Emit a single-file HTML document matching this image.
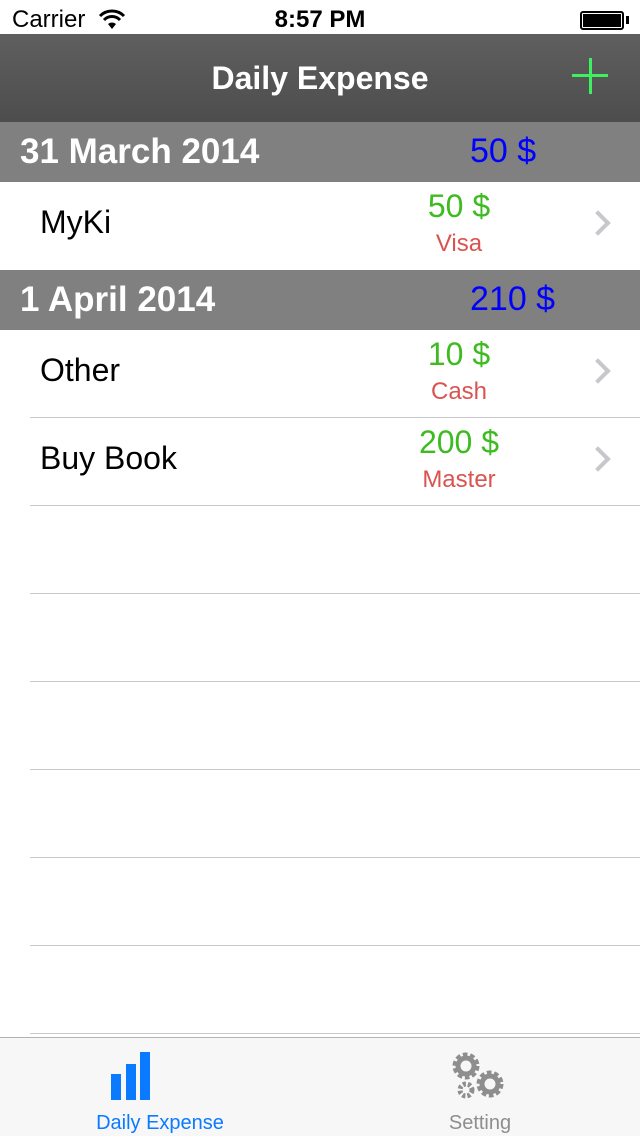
<!DOCTYPE html>
<html><head><meta charset="utf-8"><style>
*{margin:0;padding:0;box-sizing:border-box}
body{width:640px;height:1136px;overflow:hidden;background:#fff;font-family:"Liberation Sans",Arial,sans-serif;position:relative}
.abs{position:absolute}
.sep{position:absolute;left:30px;right:0;height:1px;background:#c8c7cc}
.hdr{position:absolute;left:0;width:640px;height:60px;background:#808080;color:#fff}
.hdr .d{position:absolute;left:20px;top:10px;font-size:35px;font-weight:bold}
.hdr .t{position:absolute;left:470px;top:10px;font-size:34px;color:#0000ff}
.row{position:absolute;left:0;width:640px;height:88px}
.row .n{position:absolute;left:40px;top:22px;font-size:32px;color:#000}
.row .a{position:absolute;left:360px;width:198px;text-align:center;top:6px;font-size:32px;color:#3dbb1f}
.row .m{position:absolute;left:360px;width:198px;text-align:center;top:48px;font-size:24px;color:#d9534f}
.chev{position:absolute;left:589px;top:32px;width:18px;height:18px;border-right:4px solid #c7c7cc;border-top:4px solid #c7c7cc;transform:rotate(45deg)}
</style></head><body>
<div class="abs" style="left:0;top:0;width:640px;height:34px;background:#fff">
 <div class="abs" style="left:12px;top:6px;font-size:24px">Carrier</div>
 <svg class="abs" style="left:98px;top:8px" width="28" height="22" viewBox="0 0 28 22">
  <path d="M2 8 A17 17 0 0 1 26 8" stroke="#000" stroke-width="3" fill="none"/>
  <path d="M6 12 A11 11 0 0 1 22 12" stroke="#000" stroke-width="3" fill="none"/>
  <path d="M10 16 L14 21 L18 16 A6 6 0 0 0 10 16Z" fill="#000"/></svg>
 <div class="abs" style="left:0;width:640px;text-align:center;top:6px;font-size:24px;font-weight:bold">8:57 PM</div>
 <div class="abs" style="left:580px;top:11px;width:44px;height:19px;border:2px solid #000;border-radius:3px;padding:1px"><div style="width:100%;height:100%;background:#000"></div></div>
 <div class="abs" style="left:626px;top:16px;width:3px;height:8px;background:#000"></div>
</div>
<div class="abs" style="left:0;top:34px;width:640px;height:88px;background:linear-gradient(#5f5f5f,#4d4d4d)">
 <div class="abs" style="left:0;width:640px;text-align:center;top:26px;color:#fff;font-size:32px;font-weight:bold">Daily Expense</div>
 <div class="abs" style="left:572px;top:24px;width:36px;height:36px">
  <div class="abs" style="left:17px;top:0;width:3px;height:36px;background:#3cf060"></div>
  <div class="abs" style="left:0;top:16px;width:36px;height:3px;background:#3cf060"></div>
 </div>
</div>
<div class="hdr" style="top:122px"><div class="d">31 March 2014</div><div class="t">50 $</div></div>
<div class="row" style="top:182px"><div class="n">MyKi</div><div class="a">50 $</div><div class="m">Visa</div><div class="chev"></div></div>
<div class="hdr" style="top:270px"><div class="d">1 April 2014</div><div class="t">210 $</div></div>
<div class="row" style="top:330px"><div class="n">Other</div><div class="a">10 $</div><div class="m">Cash</div><div class="chev"></div></div>
<div class="sep" style="top:417px"></div>
<div class="row" style="top:418px"><div class="n">Buy Book</div><div class="a">200 $</div><div class="m">Master</div><div class="chev"></div></div>
<div class="sep" style="top:505px"></div>
<div class="sep" style="top:593px"></div>
<div class="sep" style="top:681px"></div>
<div class="sep" style="top:769px"></div>
<div class="sep" style="top:857px"></div>
<div class="sep" style="top:945px"></div>
<div class="sep" style="top:1033px"></div>
<div class="abs" style="left:0;top:1037px;width:640px;height:99px;background:#f7f7f7;border-top:1px solid #b2b2b2">
 <div class="abs" style="left:60px;top:0;width:200px;height:99px">
  <div class="abs" style="left:51px;top:36px;width:10px;height:26px;background:#0a7aff"></div>
  <div class="abs" style="left:66px;top:26px;width:10px;height:36px;background:#0a7aff"></div>
  <div class="abs" style="left:80px;top:14px;width:10px;height:48px;background:#0a7aff"></div>
  <div class="abs" style="left:0;width:200px;text-align:center;top:74px;font-size:20px;color:#0a7aff">Daily Expense</div>
 </div>
 <div class="abs" style="left:380px;top:0;width:200px;height:99px">
  <svg class="abs" style="left:66px;top:8px" width="64" height="60" viewBox="0 0 64 60">
   <circle cx="20" cy="20" r="10" fill="none" stroke="#8e8e8e" stroke-width="7" stroke-dasharray="4 2.3"/>
   <circle cx="20" cy="20" r="8" fill="none" stroke="#8e8e8e" stroke-width="5"/>
   <circle cx="44" cy="38" r="10" fill="none" stroke="#8e8e8e" stroke-width="7" stroke-dasharray="4 2.3"/>
   <circle cx="44" cy="38" r="8" fill="none" stroke="#8e8e8e" stroke-width="5"/>
   <circle cx="20" cy="44" r="6" fill="none" stroke="#8e8e8e" stroke-width="5" stroke-dasharray="3 2"/>
  </svg>
  <div class="abs" style="left:0;width:200px;text-align:center;top:74px;font-size:20px;color:#8e8e8e">Setting</div>
 </div>
</div>
</body></html>
